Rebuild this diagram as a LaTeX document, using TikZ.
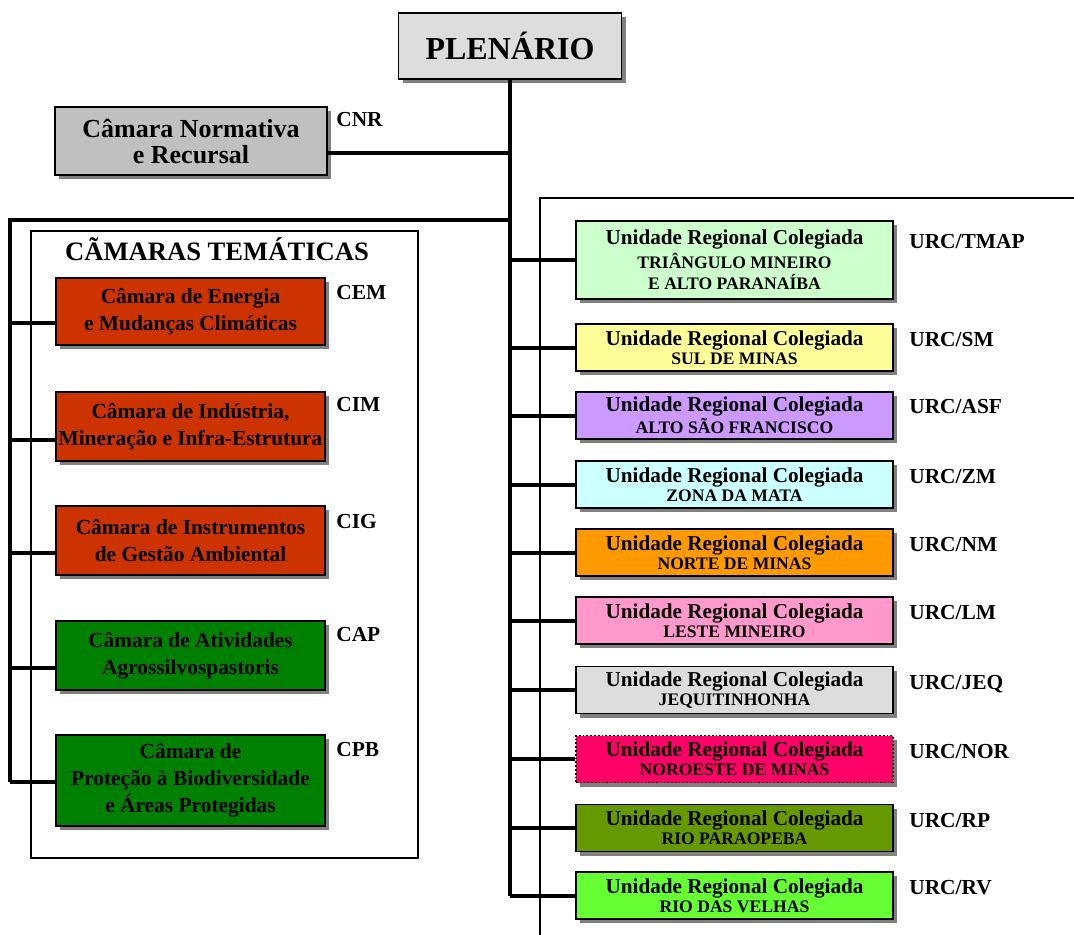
\documentclass[tikz,border=0pt]{standalone}
\usepackage{fontspec}
\setmainfont{Liberation Serif}
\usetikzlibrary{shadows}
\definecolor{cinzaclaro}{HTML}{DDDDDD}
\definecolor{cinza}{HTML}{C0C0C0}
\definecolor{tijolo}{HTML}{CC3300}
\definecolor{verde}{HTML}{008000}
\definecolor{menta}{HTML}{CCFFCC}
\definecolor{amarelo}{HTML}{FFFF99}
\definecolor{lilas}{HTML}{CC99FF}
\definecolor{ciano}{HTML}{CCFFFF}
\definecolor{laranja}{HTML}{FF9900}
\definecolor{rosa}{HTML}{FF99CC}
\definecolor{gelo}{HTML}{DDDDDD}
\definecolor{magenta}{HTML}{FF0066}
\definecolor{oliva}{HTML}{669900}
\definecolor{lima}{HTML}{66FF33}
\newcommand{\regiao}[1]{{\fontsize{8.8}{9.5}\selectfont #1}}
\tikzset{
  >={latex},
  caixa/.style={draw, line width=0.9pt, inner sep=1pt, align=center,
    drop shadow={shadow xshift=2pt, shadow yshift=-2pt, fill=black!50, opacity=1}},
  camara/.style={caixa, minimum width=134.5pt, minimum height=34.5pt,
    font=\bfseries\fontsize{10.7}{13.5}\selectfont},
  urc/.style={caixa, minimum width=158.5pt, minimum height=23.5pt,
    font=\bfseries\fontsize{10.6}{9.5}\selectfont},
  sigla/.style={anchor=north west, inner sep=0pt, font=\bfseries\fontsize{10.7}{11}\selectfont},
  liga/.style={line width=2pt},
  fina/.style={line width=0.6pt}
}

\begin{document}
\begin{tikzpicture}[x=0.5pt, y=-0.5pt]
    \useasboundingbox (0,0) rectangle (1074,935);
    % topo
    \node[caixa, fill=cinzaclaro, minimum width=111.5pt, minimum height=33pt,
      font=\bfseries\fontsize{16}{18}\selectfont] (p) at (510,46) {PLENÁRIO};
    \node[caixa, fill=cinza, minimum width=136pt, minimum height=34pt,
      font=\bfseries\fontsize{13}{13}\selectfont] (n) at (191,141) {Câmara Normativa\\e Recursal};
    \node[sigla] (s_n) at ([xshift=4pt,yshift=-3pt]n.north east) {CNR};
    % molduras
    \draw[fina, drop shadow={shadow xshift=0.6pt, shadow yshift=-0.6pt, fill=black!40, opacity=1}, fill=white]
      (31,231) rectangle (418,858);
    \node[font=\bfseries\fontsize{13.3}{14}\selectfont] (t) at (217,249) {CÃMARAS TEMÁTICAS};
    \draw[fina] (1074,198) -- (540,198) -- (540,935);
    % camaras tematicas
    \node[camara, fill=tijolo, minimum height=33.5pt] (c_1) at (190.5,311.5)
      {Câmara de Energia\\e Mudanças Climáticas};
    \node[camara, fill=tijolo] (c_2) at (190.5,426.5)
      {Câmara de Indústria,\\Mineração e Infra-Estrutura};
    \node[camara, fill=tijolo] (c_3) at (190.5,540.5)
      {Câmara de Instrumentos\\de Gestão Ambiental};
    \node[camara, fill=verde] (c_4) at (190.5,655.5)
      {Câmara de Atividades\\Agrossilvospastoris};
    \node[camara, fill=verde, minimum height=45.5pt] (c_5) at (190.5,780.5)
      {Câmara de\\Proteção à Biodiversidade\\e Áreas Protegidas};
    \node[sigla] (s_c1) at ([xshift=5pt,yshift=-4pt]c_1.north east) {CEM};
    \node[sigla] (s_c2) at ([xshift=5pt,yshift=-3pt]c_2.north east) {CIM};
    \node[sigla] (s_c3) at ([xshift=5pt,yshift=-4.5pt]c_3.north east) {CIG};
    \node[sigla] (s_c4) at ([xshift=5pt,yshift=-3.5pt]c_4.north east) {CAP};
    \node[sigla] (s_c5) at ([xshift=5pt,yshift=-4pt]c_5.north east) {CPB};
    % unidades regionais
    \node[urc, fill=menta, minimum height=39pt] (u_1) at (734.5,260)
      {Unidade Regional Colegiada\\[1pt]\regiao{TRIÂNGULO MINEIRO}\\[1pt]\regiao{E ALTO PARANAÍBA}};
    \node[urc, fill=amarelo] (u_2) at (734.5,347.5)
      {Unidade Regional Colegiada\\\regiao{SUL DE MINAS}};
    \node[urc, fill=lilas] (u_3) at (734.5,415.5)
      {Unidade Regional Colegiada\\\regiao{ALTO SÃO FRANCISCO}};
    \node[urc, fill=ciano] (u_4) at (734.5,484.5)
      {Unidade Regional Colegiada\\\regiao{ZONA DA MATA}};
    \node[urc, fill=laranja] (u_5) at (734.5,552.5)
      {Unidade Regional Colegiada\\\regiao{NORTE DE MINAS}};
    \node[urc, fill=rosa] (u_6) at (734.5,620.5)
      {Unidade Regional Colegiada\\\regiao{LESTE MINEIRO}};
    \node[urc, fill=gelo] (u_7) at (734.5,690)
      {Unidade Regional Colegiada\\\regiao{JEQUITINHONHA}};
    \node[urc, fill=magenta, densely dotted] (u_8) at (734.5,759)
      {Unidade Regional Colegiada\\\regiao{NOROESTE DE MINAS}};
    \node[urc, fill=oliva] (u_9) at (734.5,828)
      {Unidade Regional Colegiada\\\regiao{RIO PARAOPEBA}};
    \node[urc, fill=lima] (u_10) at (734.5,895.5)
      {Unidade Regional Colegiada\\\regiao{RIO DAS VELHAS}};
    \node[sigla] (s_u1) at ([xshift=7.5pt,yshift=-7pt]u_1.north east) {URC/TMAP};
    \node[sigla] (s_u2) at ([xshift=7.5pt,yshift=-4.5pt]u_2.north east) {URC/SM};
    \node[sigla] (s_u3) at ([xshift=7.5pt,yshift=-4pt]u_3.north east) {URC/ASF};
    \node[sigla] (s_u4) at ([xshift=7.5pt,yshift=-4.5pt]u_4.north east) {URC/ZM};
    \node[sigla] (s_u5) at ([xshift=7.5pt,yshift=-4.5pt]u_5.north east) {URC/NM};
    \node[sigla] (s_u6) at ([xshift=7.5pt,yshift=-4.5pt]u_6.north east) {URC/LM};
    \node[sigla] (s_u7) at ([xshift=7.5pt,yshift=-4.5pt]u_7.north east) {URC/JEQ};
    \node[sigla] (s_u8) at ([xshift=7.5pt,yshift=-4.5pt]u_8.north east) {URC/NOR};
    \node[sigla] (s_u9) at ([xshift=7.5pt,yshift=-4.5pt]u_9.north east) {URC/RP};
    \node[sigla] (s_u10) at ([xshift=7.5pt,yshift=-4.5pt]u_10.north east) {URC/RV};
    % ligacoes
    \coordinate (a) at (510,153);
    \coordinate (b_0) at (510,220);
    \coordinate (b_1) at (10,220);
    \coordinate (e_1) at (10,323);
    \coordinate (e_2) at (10,440);
    \coordinate (e_3) at (10,553);
    \coordinate (e_4) at (10,668);
    \coordinate (e_5) at (10,782);
    \draw[liga] (p.south) -- (p.south |- u_10.west);
    \draw[liga] (a) -- (a -| n.east);
    \draw[liga] (b_0) -- (b_1) -- (e_5);
    \draw[liga] (e_1) -- (e_1 -| c_1.west);
    \draw[liga] (e_2) -- (e_2 -| c_2.west);
    \draw[liga] (e_3) -- (e_3 -| c_3.west);
    \draw[liga] (e_4) -- (e_4 -| c_4.west);
    \draw[liga] (e_5) -- (e_5 -| c_5.west);
    \draw[liga] (u_1.west) -- (u_1.west -| p.south);
    \draw[liga] (u_2.west) -- (u_2.west -| p.south);
    \draw[liga] (u_3.west) -- (u_3.west -| p.south);
    \draw[liga] (u_4.west) -- (u_4.west -| p.south);
    \draw[liga] (u_5.west) -- (u_5.west -| p.south);
    \draw[liga] (u_6.west) -- (u_6.west -| p.south);
    \draw[liga] (u_7.west) -- (u_7.west -| p.south);
    \draw[liga] (u_8.west) -- (u_8.west -| p.south);
    \draw[liga] (u_9.west) -- (u_9.west -| p.south);
    \draw[liga] (u_10.west) -- (u_10.west -| p.south);
\end{tikzpicture}
\end{document}
